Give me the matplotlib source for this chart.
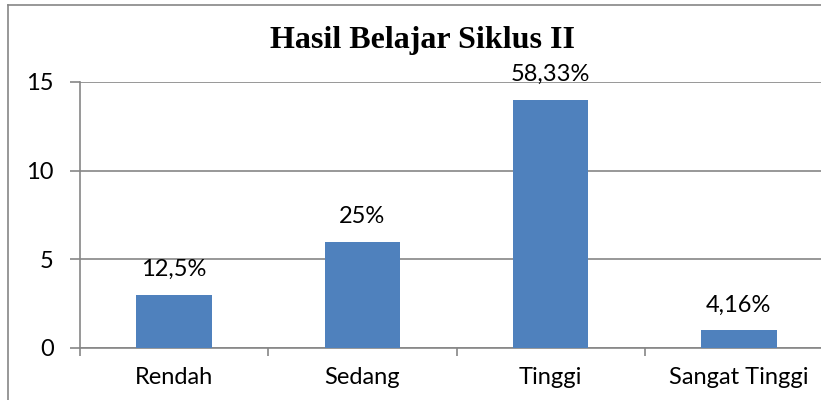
import matplotlib.pyplot as plt
from matplotlib.lines import Line2D

categories = ["Rendah", "Sedang", "Tinggi", "Sangat Tinggi"]
counts = [3, 6, 14, 1]
labels = ["12,5%", "25%", "58,33%", "4,16%"]
title = "Hasil Belajar Siklus II"

W, H = 821, 400
fig = plt.figure(figsize=(W / 100, H / 100), dpi=100)

# plot area runs past the right edge, as in the cropped original
ax = fig.add_axes([80 / W, 52 / H, (833 - 80) / W, 266 / H])

x = list(range(len(categories)))
ax.bar(x, counts, width=0.4, color="#4F81BD", zorder=3)

ax.set_xlim(-0.5, len(categories) - 0.5)
ax.set_ylim(0, 15)
ax.set_yticks([0, 5, 10, 15])
ax.grid(axis="y", color="#868686", linewidth=1.2, zorder=0)

fs = 17
for xi, v, lab in zip(x, counts, labels):
    ax.annotate(lab, (xi, v), xytext=(0, 13.5), textcoords="offset points",
                ha="center", va="baseline", fontsize=fs, family="Lato")

for s in ["top", "right"]:
    ax.spines[s].set_visible(False)
for s in ["left", "bottom"]:
    ax.spines[s].set_color("#868686")
    ax.spines[s].set_linewidth(1.2)

# category labels at centres, tick marks at boundaries
ax.set_xticks(x)
ax.set_xticklabels(categories, fontsize=fs, family="Lato")
ax.tick_params(axis="x", length=0, pad=14)
ax.set_xticks([i - 0.5 for i in range(len(categories) + 1)], minor=True)
ax.tick_params(axis="x", which="minor", length=6, width=1.2, color="#868686")
ax.tick_params(axis="y", length=7, width=1.2, color="#868686", pad=12,
               labelsize=fs)
for t in ax.get_yticklabels():
    t.set_family("Lato")

fig.text(422 / W, 1 - 48 / H, title, ha="center", va="baseline",
         fontsize=23, fontweight="bold", family="Liberation Serif")

# chart border (only left and top visible in the crop)
fig.add_artist(Line2D([8 / W, 8 / W], [0, 1 - 5 / H], transform=fig.transFigure,
                      color="#868686", linewidth=1.2))
fig.add_artist(Line2D([8 / W, 1], [1 - 5 / H, 1 - 5 / H], transform=fig.transFigure,
                      color="#868686", linewidth=1.2))

fig.savefig("out.png", dpi=100)
